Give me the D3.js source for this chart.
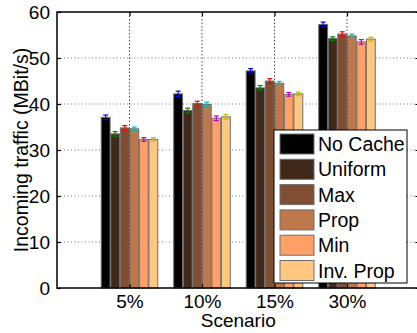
<!DOCTYPE html>
<html>
<head>
<meta charset="utf-8">
<script src="https://cdn.jsdelivr.net/npm/d3@7"></script>
<style>
  body { margin: 0; background: #fff; }
  svg { display: block; font-family: "Liberation Sans", Arial, sans-serif; }
</style>
</head>
<body>
<svg id="chart" width="417" height="333"></svg>
<script>
// data
const scenarios = ['5%', '10%', '15%', '30%'];
const series = ['No Cache', 'Uniform', 'Max', 'Prop', 'Min', 'Inv. Prop'];
const noCache  = [37.1, 42.2, 47.2, 57.3];
const uniform  = [33.5, 38.6, 43.5, 54.2];
const maxVals  = [34.8, 40.1, 45.0, 55.2];
const prop     = [34.6, 39.9, 44.5, 54.8];
const minVals  = [32.3, 36.9, 42.1, 53.5];
const invProp  = [32.3, 37.2, 42.2, 54.1];
const errNoCache = [0.5, 0.6, 0.5, 0.5];
const errUniform = [0.5, 0.5, 0.5, 0.4];
const errMax     = [0.5, 0.5, 0.5, 0.5];
const errProp    = [0.4, 0.5, 0.4, 0.4];
const errMin     = [0.4, 0.5, 0.4, 0.5];
const errInvProp = [0.4, 0.5, 0.4, 0.4];
const yTicks = [0, 10, 20, 30, 40, 50, 60];

const values = [noCache, uniform, maxVals, prop, minVals, invProp];
const errors = [errNoCache, errUniform, errMax, errProp, errMin, errInvProp];
const barColors = ['#000000', '#40281a', '#804f33', '#bf784c', '#ffa066', '#ffc77f'];
const errColors = ['#0000ff', '#008000', '#ff0000', '#00bfbf', '#bf00bf', '#bfbf00'];

const margin = { left: 57, top: 12, right: 419.5, bottom: 288 };

const svg = d3.select('#chart');

const x = d3.scaleLinear().domain([0, 5]).range([margin.left, margin.right]);
const y = d3.scaleLinear().domain([0, 60]).range([margin.bottom, margin.top]);
const groupW = 0.78 * (x(1) - x(0));
const x1 = d3.scaleBand().domain(series).range([-groupW / 2, groupW / 2]).paddingInner(0.07);

// horizontal grid under bars
svg.append('g')
  .selectAll('line')
  .data(yTicks.slice(1, -1))
  .join('line')
  .attr('x1', margin.left).attr('x2', margin.right)
  .attr('y1', d => y(d)).attr('y2', d => y(d))
  .attr('stroke', '#777').attr('stroke-width', 1)
  .attr('stroke-dasharray', '1,2.5');

// bars
const rows = [];
series.forEach((s, k) => {
  scenarios.forEach((c, i) => {
    rows.push({ s, k, i, v: values[k][i], e: errors[k][i] });
  });
});

svg.append('g')
  .selectAll('rect')
  .data(rows)
  .join('rect')
  .attr('x', d => x(d.i + 1) + x1(d.s))
  .attr('width', x1.bandwidth())
  .attr('y', d => y(d.v))
  .attr('height', d => y(0) - y(d.v))
  .attr('fill', d => barColors[d.k])
  .attr('stroke', '#6e6e6e')
  .attr('stroke-width', 1);

// error bars
const eg = svg.append('g').selectAll('g').data(rows).join('g')
  .attr('stroke', d => errColors[d.k]).attr('stroke-width', 1.2);
const cx = d => x(d.i + 1) + x1(d.s) + x1.bandwidth() / 2;
eg.append('line')
  .attr('x1', cx).attr('x2', cx)
  .attr('y1', d => y(d.v - d.e)).attr('y2', d => y(d.v + d.e));
eg.append('line')
  .attr('x1', d => cx(d) - 2.5).attr('x2', d => cx(d) + 2.5)
  .attr('y1', d => y(d.v + d.e)).attr('y2', d => y(d.v + d.e));
eg.append('line')
  .attr('x1', d => cx(d) - 2.5).attr('x2', d => cx(d) + 2.5)
  .attr('y1', d => y(d.v - d.e)).attr('y2', d => y(d.v - d.e));

// vertical grid on top of bars
svg.append('g')
  .selectAll('line')
  .data(scenarios)
  .join('line')
  .attr('x1', (d, i) => x(i + 1)).attr('x2', (d, i) => x(i + 1))
  .attr('y1', margin.top).attr('y2', margin.bottom)
  .attr('stroke', '#444').attr('stroke-width', 1)
  .attr('stroke-dasharray', '1.5,2');

// frame and ticks
svg.append('rect')
  .attr('x', margin.left).attr('y', margin.top)
  .attr('width', margin.right - margin.left).attr('height', margin.bottom - margin.top)
  .attr('fill', 'none').attr('stroke', '#000').attr('stroke-width', 1.5);

const yAxisL = d3.axisLeft(y).tickValues(yTicks).tickSize(-4).tickPadding(7).tickFormat(d3.format('d'));
const gL = svg.append('g').attr('transform', `translate(${margin.left},0)`).call(yAxisL);
const yAxisR = d3.axisRight(y).tickValues(yTicks).tickSize(-4).tickFormat('');
const gR = svg.append('g').attr('transform', `translate(${margin.right},0)`).call(yAxisR);
const xAxisB = d3.axisBottom(x).tickValues([1, 2, 3, 4]).tickSize(-4).tickPadding(10)
  .tickFormat((d, i) => scenarios[i]);
const gB = svg.append('g').attr('transform', `translate(0,${margin.bottom})`).call(xAxisB);
const xAxisT = d3.axisTop(x).tickValues([1, 2, 3, 4]).tickSize(-4).tickFormat('');
const gT = svg.append('g').attr('transform', `translate(0,${margin.top})`).call(xAxisT);

[gL, gR, gB, gT].forEach(g => {
  g.select('.domain').remove();
  g.selectAll('.tick line').attr('stroke', '#000').attr('stroke-width', 1.2);
  g.selectAll('text').attr('fill', '#000').attr('font-size', 19)
    .attr('font-family', '"Liberation Sans", Arial, sans-serif');
});
gB.selectAll('text').attr('dy', null).attr('y', 20);

// axis titles
svg.append('text')
  .attr('x', (margin.left + margin.right) / 2).attr('y', 327)
  .attr('text-anchor', 'middle').attr('font-size', 19)
  .text('Scenario');

svg.append('text')
  .attr('transform', `translate(28,${(margin.top + margin.bottom) / 2}) rotate(-90)`)
  .attr('text-anchor', 'middle').attr('font-size', 19.5)
  .text('Incoming traffic (MBit/s)');

// legend
const legend = svg.append('g').attr('transform', 'translate(274,130)');
legend.append('rect')
  .attr('width', 133).attr('height', 153)
  .attr('fill', '#fff').attr('stroke', '#000').attr('stroke-width', 1);
const items = legend.selectAll('g.item').data(series).join('g')
  .attr('class', 'item')
  .attr('transform', (d, i) => `translate(6,${4 + i * 25.3})`);
items.append('rect')
  .attr('width', 34).attr('height', 20)
  .attr('fill', (d, i) => barColors[i])
  .attr('stroke', '#6e6e6e').attr('stroke-width', 1);
items.append('text')
  .attr('x', 38).attr('y', 17)
  .attr('font-size', 19.5)
  .text(d => d);
</script>
</body>
</html>
